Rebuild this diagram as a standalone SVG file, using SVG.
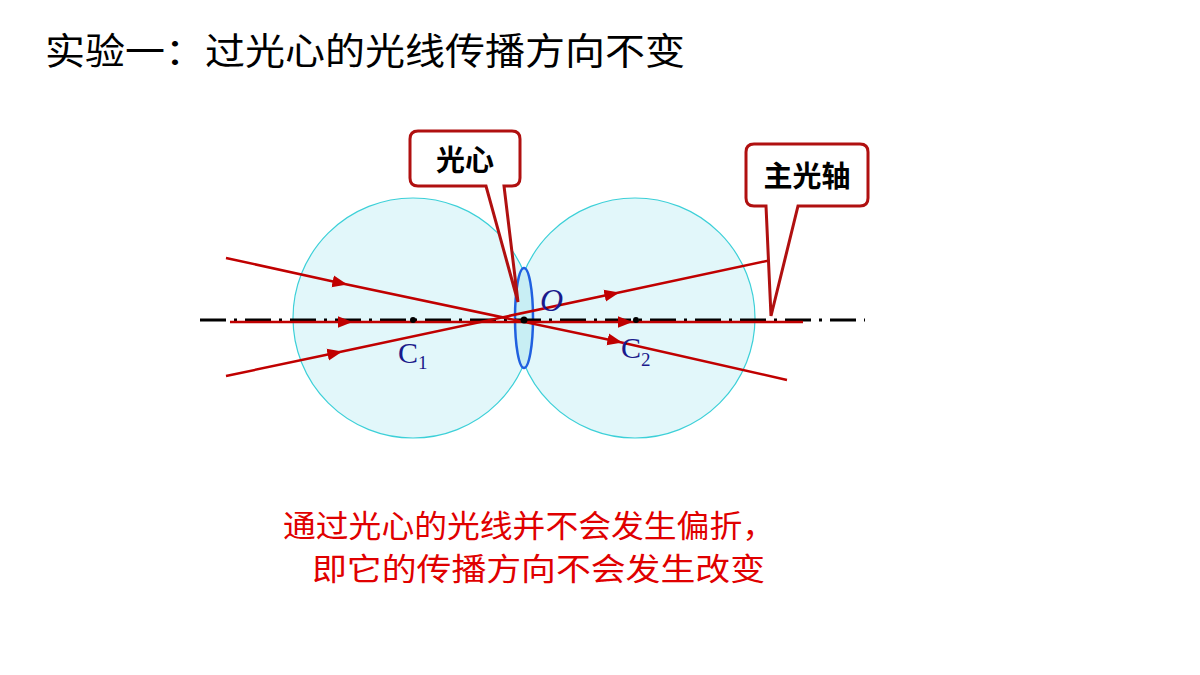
<svg xmlns="http://www.w3.org/2000/svg" width="1200" height="675" viewBox="0 0 1200 675">
<style>
.cjk{font-family:"Noto Sans CJK SC","Noto Sans CJK JP",sans-serif}
.ray{stroke:#c00000;stroke-width:2.5;fill:none}
.lbl{font-family:"Liberation Serif",serif;fill:#1a1a8c}
.call{fill:#fff;stroke:#b01010;stroke-width:3}
</style>
<defs>
<marker id="ar" viewBox="0 0 10 10" refX="5" refY="5" markerWidth="6" markerHeight="6" orient="auto"><path d="M0,1 L10,5 L0,9 z" fill="#c00000"/></marker>
</defs>
<rect width="1200" height="675" fill="#fff"/>
<text x="45" y="65" class="cjk" font-size="37" fill="#000" textLength="640" lengthAdjust="spacingAndGlyphs">实验一：过光心的光线传播方向不变</text>
<g id="circles">
<circle cx="413" cy="318" r="120" fill="#e2f7fa" stroke="#3cd0d8" stroke-width="1.2"/>
<circle cx="635" cy="318" r="120" fill="#e2f7fa" stroke="#3cd0d8" stroke-width="1.2"/>
</g>
<g id="lens"><ellipse cx="524" cy="318" rx="9" ry="50" fill="#c8eef4" stroke="#2060e0" stroke-width="2.5"/></g>
<g id="axis"><line x1="200" y1="320" x2="865" y2="320" stroke="#000" stroke-width="3" stroke-dasharray="26,8,3,8"/></g>
<g id="connectors">
<path class="ray" d="M230,322 L345,322 L625,322 L803,322" marker-mid="url(#ar)"/>
<path class="ray" d="M226,258 L340,283 L615,341 L787,380" marker-mid="url(#ar)"/>
<path class="ray" d="M226,376 L335,353 L612,294 L785,257" marker-mid="url(#ar)"/>
</g>
<g id="dots" fill="#000">
<circle cx="413" cy="320" r="3"/><circle cx="524" cy="320" r="3.5"/><circle cx="636" cy="320" r="3"/>
</g>
<text x="398" y="363" class="lbl" font-size="30">C<tspan font-size="19" dy="6">1</tspan></text>
<text x="621" y="358" class="lbl" font-size="30">C<tspan font-size="19" dy="8">2</tspan></text>
<text x="540" y="311" class="lbl" font-size="32" font-style="italic">O</text>
<g id="node-guangxin">
<path class="call" d="M418,131 H512 Q520,131 520,139 V178 Q520,186 512,186 H504 L518,302 L486,186 H418 Q410,186 410,178 V139 Q410,131 418,131 Z"/>
<text x="465" y="171" class="cjk" font-size="29" font-weight="bold" text-anchor="middle" fill="#000">光心</text>
</g>
<g id="node-zhuguangzhou">
<path class="call" d="M754,144 H860 Q868,144 868,152 V198 Q868,206 860,206 H798 L771,316 L766,206 H754 Q746,206 746,198 V152 Q746,144 754,144 Z"/>
<text x="807" y="187" class="cjk" font-size="29" font-weight="bold" text-anchor="middle" fill="#000">主光轴</text>
</g>
<text x="283" y="537" class="cjk" font-size="31" fill="#e00000" textLength="492" lengthAdjust="spacingAndGlyphs">通过光心的光线并不会发生偏折，</text>
<text x="312" y="580" class="cjk" font-size="31" fill="#e00000" textLength="453" lengthAdjust="spacingAndGlyphs">即它的传播方向不会发生改变</text>
</svg>
